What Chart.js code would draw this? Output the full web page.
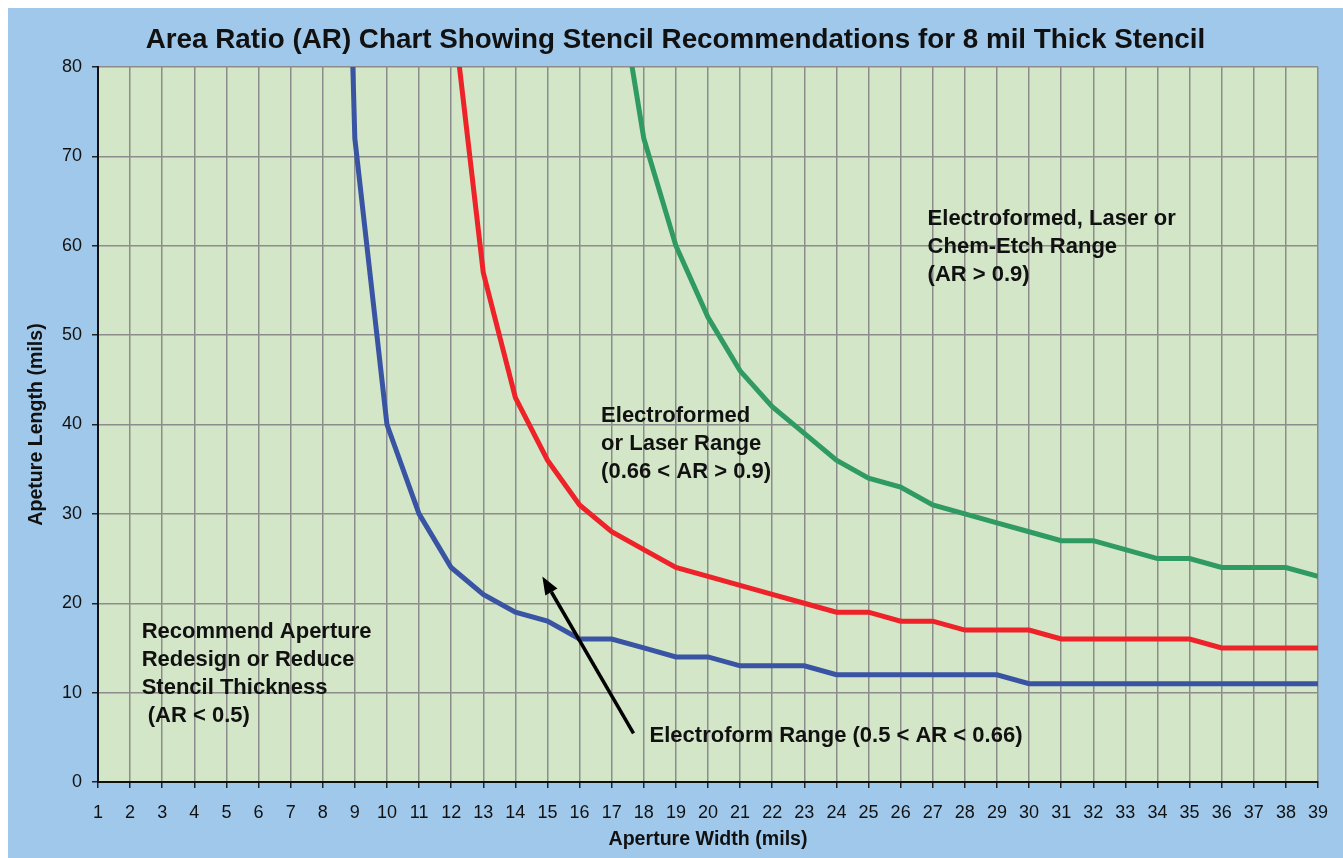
<!DOCTYPE html>
<html>
<head>
<meta charset="utf-8">
<script src="https://cdn.jsdelivr.net/npm/chart.js@4/dist/chart.umd.min.js"></script>
<style>
  html, body { margin: 0; padding: 0; background: #ffffff; width: 1343px; height: 858px; overflow: hidden; }
  #wrap { position: absolute; left: 8px; top: 8px; width: 1335px; height: 850px; background: #9fc8ea; }
  canvas { display: block; }
</style>
</head>
<body>
<div id="wrap"><canvas id="c"></canvas></div>
<script>
// ---------- data ----------
const widths = ['1','2','3','4','5','6','7','8','9','10','11','12','13','14','15','16','17','18','19','20',
                '21','22','23','24','25','26','27','28','29','30','31','32','33','34','35','36','37','38','39'];
// AR = 0.5 boundary (blue)
const arHalf = [null,null,null,null,null,null,null,200,72,40,30,24,21,19,18,16,16,15,14,14,
                13,13,13,12,12,12,12,12,12,11,11,11,11,11,11,11,11,11,11];
// AR = 0.66 boundary (red)
const arSixSix = [null,null,null,null,null,null,null,null,null,null,null,88,57,43,36,31,28,26,24,23,
                  22,21,20,19,19,18,18,17,17,17,16,16,16,16,16,15,15,15,15];
// AR = 0.9 boundary (green)
const arNine = [null,null,null,null,null,null,null,null,null,null,null,null,null,null,null,null,94,72,60,52,
                46,42,39,36,34,33,31,30,29,28,27,27,26,25,25,24,24,24,23];
const yTicks = [0,10,20,30,40,50,60,70,80];

const titleText = 'Area Ratio (AR) Chart Showing Stencil Recommendations for 8 mil Thick Stencil';
const xTitle = 'Aperture Width (mils)';
const yTitle = 'Apeture Length (mils)';

// annotation texts, anchored in data units (category index, length value)
const noteTexts = [
  ['Electroformed, Laser or', 'Chem-Etch Range', '(AR > 0.9)'],
  ['Electroformed', 'or Laser Range', '(0.66 < AR > 0.9)'],
  ['Recommend Aperture', 'Redesign or Reduce', 'Stencil Thickness', ' (AR < 0.5)'],
  ['Electroform Range (0.5 < AR < 0.66)']
];
const noteAnchors = [[25.84, 63.0], [15.67, 40.95], [1.36, 16.78], [17.18, 5.1]];
const arrowFrom = [16.68, 5.45];
const arrowTo = [13.84, 23.0];

// ---------- styling ----------
const FONT = "'Liberation Sans', Arial, Helvetica, sans-serif";
const PLOT_BG = '#d3e6c7';
const GRID = '#8c8c8c';

const plotBgPlugin = {
  id: 'plotBg',
  beforeDraw(chart) {
    const {ctx, chartArea: a} = chart;
    ctx.save();
    ctx.fillStyle = PLOT_BG;
    ctx.fillRect(a.left, a.top, a.right - a.left, a.bottom - a.top);
    ctx.restore();
  }
};

const titlePlugin = {
  id: 'centeredTitle',
  afterDraw(chart) {
    const {ctx} = chart;
    ctx.save();
    ctx.fillStyle = '#111111';
    ctx.font = 'bold 27.8px ' + FONT;
    ctx.textAlign = 'center';
    ctx.textBaseline = 'middle';
    ctx.fillText(titleText, chart.width / 2, 32);
    ctx.restore();
  }
};

const notesPlugin = {
  id: 'notes',
  afterDatasetsDraw(chart) {
    const {ctx} = chart;
    const xs = chart.scales.x, ys = chart.scales.y;
    ctx.save();
    ctx.fillStyle = '#111111';
    ctx.font = 'bold 22px ' + FONT;
    ctx.textAlign = 'left';
    ctx.textBaseline = 'middle';
    noteTexts.forEach((lines, i) => {
      const x = xs.getPixelForValue(noteAnchors[i][0]);
      const y = ys.getPixelForValue(noteAnchors[i][1]);
      lines.forEach((t, k) => ctx.fillText(t, x, y + k * 28));
    });
    // arrow
    const x0 = xs.getPixelForValue(arrowFrom[0]), y0 = ys.getPixelForValue(arrowFrom[1]);
    const x1 = xs.getPixelForValue(arrowTo[0]), y1 = ys.getPixelForValue(arrowTo[1]);
    const ang = Math.atan2(y1 - y0, x1 - x0);
    const head = 18, half = 7;
    const bx = x1 - head * Math.cos(ang), by = y1 - head * Math.sin(ang);
    ctx.strokeStyle = '#000000';
    ctx.lineWidth = 3.5;
    ctx.beginPath();
    ctx.moveTo(x0, y0);
    ctx.lineTo(bx, by);
    ctx.stroke();
    ctx.fillStyle = '#000000';
    ctx.beginPath();
    ctx.moveTo(x1, y1);
    ctx.lineTo(bx + half * Math.sin(ang), by - half * Math.cos(ang));
    ctx.lineTo(bx - half * Math.sin(ang), by + half * Math.cos(ang));
    ctx.closePath();
    ctx.fill();
    ctx.restore();
  }
};

const mkSet = (data, color) => ({
  data, borderColor: color, backgroundColor: color, borderWidth: 5,
  pointRadius: 0, pointHoverRadius: 0, tension: 0, fill: false, spanGaps: false, clip: 0
});

new Chart(document.getElementById('c'), {
  type: 'line',
  data: {
    labels: widths,
    datasets: [
      mkSet(arHalf, '#3a54a4'),
      mkSet(arSixSix, '#ee2229'),
      mkSet(arNine, '#2f9a62')
    ]
  },
  options: {
    responsive: true,
    maintainAspectRatio: false,
    animation: false,
    events: [],
    layout: { padding: { left: 0, top: 59, right: 25, bottom: 0 } },
    plugins: {
      legend: { display: false },
      tooltip: { enabled: false },
      title: { display: false }
    },
    scales: {
      x: {
        type: 'category',
        offset: false,
        grid: { color: GRID, lineWidth: 1.5, tickColor: '#222222', tickLength: 6, drawTicks: true },
        border: { color: '#111111', width: 2 },
        ticks: { color: '#111111', font: { family: FONT, size: 18 }, padding: 14, maxRotation: 0, autoSkip: false },
        title: { display: true, text: xTitle, color: '#111111',
                 font: { family: FONT, size: 19.6, weight: 'bold', lineHeight: 1.2 }, padding: { top: 4, bottom: 6.3 } },
        afterFit(s) { s.height = 76; }
      },
      y: {
        min: 0, max: 80,
        afterBuildTicks(s) { s.ticks = yTicks.map(v => ({ value: v })); },
        grid: { color: GRID, lineWidth: 1.5, tickColor: '#222222', tickLength: 6 },
        border: { color: '#111111', width: 2 },
        ticks: { color: '#111111', font: { family: FONT, size: 18 }, padding: 10 },
        title: { display: true, text: yTitle, color: '#111111',
                 font: { family: FONT, size: 19.6, weight: 'bold', lineHeight: 1.2 }, padding: { top: 17.2, bottom: 0 } },
        afterFit(s) { s.width = 90; }
      }
    }
  },
  plugins: [plotBgPlugin, notesPlugin, titlePlugin]
});
</script>
</body>
</html>
